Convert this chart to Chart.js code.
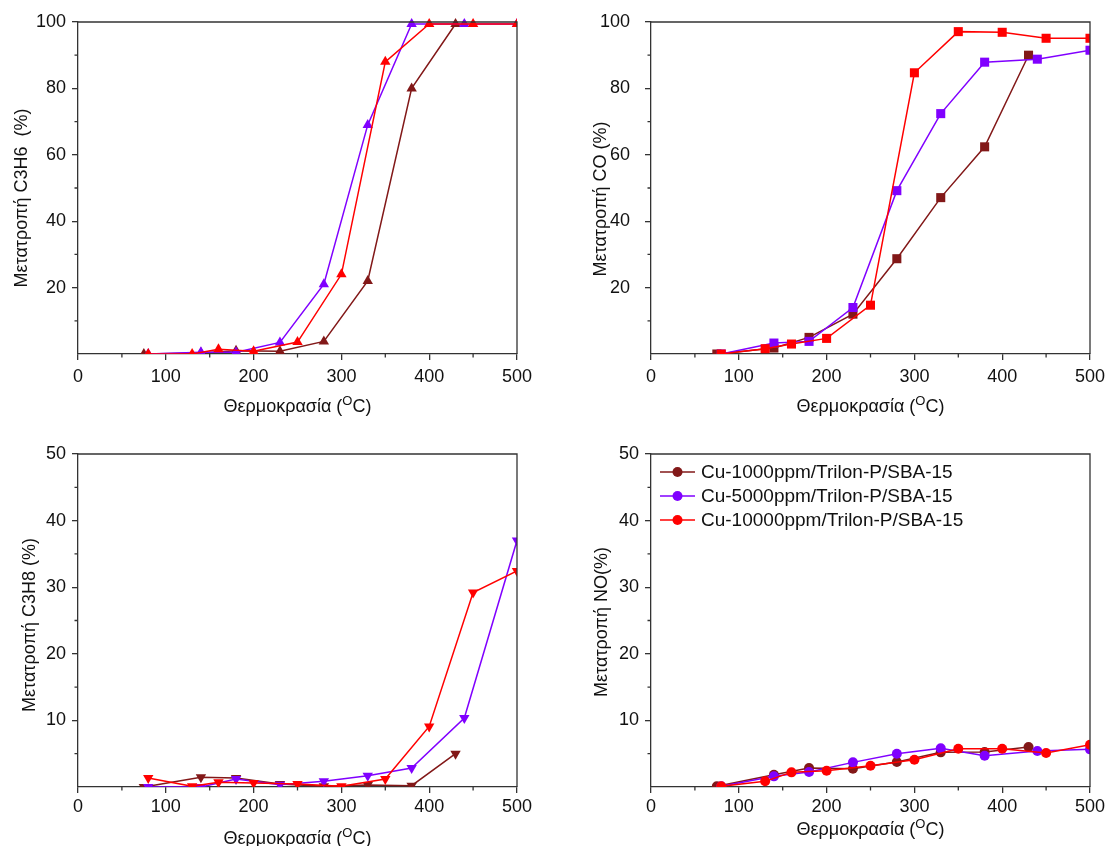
<!DOCTYPE html>
<html>
<head>
<meta charset="utf-8">
<script src="https://cdn.jsdelivr.net/npm/chart.js@4.4.1/dist/chart.umd.min.js"></script>
<style>
  html, body { margin: 0; padding: 0; background: #fff; }
  #page { position: relative; width: 1107px; height: 846px; overflow: hidden; background: #fff; }
  canvas { position: absolute; }
</style>
</head>
<body>
<div id="page">
  <canvas id="c3h6" width="553" height="423" style="left:0;top:0"></canvas>
  <canvas id="co" width="554" height="423" style="left:553px;top:0"></canvas>
  <canvas id="c3h8" width="553" height="423" style="left:0;top:423px"></canvas>
  <canvas id="no" width="554" height="423" style="left:553px;top:423px"></canvas>
</div>
<script>
// Catalysts
const seriesNames = ['Cu-1000ppm/Trilon-P/SBA-15', 'Cu-5000ppm/Trilon-P/SBA-15', 'Cu-10000ppm/Trilon-P/SBA-15'];
const seriesColors = ['#821818', '#8000FF', '#FF0000'];

// Temperatures (°C) measured for each catalyst
const temps1000 = [75, 140, 180, 230, 280, 330, 380, 430];
const temps5000 = [80, 140, 180, 230, 280, 330, 380, 440, 500];
const temps10000 = [80, 130, 160, 200, 250, 300, 350, 400, 450, 500];

// C3H6 conversion (%)
const c3h6_1000 = [0, 0.3, 1.0, 0.8, 3.8, 22, 80, 99.4];
const c3h6_5000 = [0, 0.5, 0.5, 3.5, 21, 69, 99.4, 99.4, 99.4];
const c3h6_10000 = [0, 0, 1.4, 0.8, 3.6, 24, 88, 99.4, 99.4, 99.4];

// CO conversion (%)
const co_1000 = [0, 1.8, 5.0, 12.0, 28.7, 47.1, 62.4, 90.0];
const co_5000 = [0, 3.3, 3.8, 14.0, 49.2, 72.4, 87.9, 88.8, 91.5];
const co_10000 = [0, 1.6, 3.0, 4.7, 14.7, 84.7, 97.1, 96.9, 95.1, 95.1];

// C3H8 conversion (%)
const c3h8_1000 = [0, 1.45, 1.35, 0.45, 0.1, 0.3, 0.2, 5.0];
const c3h8_5000 = [0, 0, 1.2, 0.35, 0.85, 1.7, 2.85, 10.35, 37.0];
const c3h8_10000 = [1.35, 0.1, 0.7, 0.6, 0.45, 0.1, 1.2, 9.1, 29.2, 32.45];

// NO conversion (%)
const no_1000 = [0.1, 1.85, 2.85, 2.75, 3.75, 5.2, 5.25, 6.0];
const no_5000 = [0.1, 1.6, 2.25, 3.7, 5.0, 5.8, 4.7, 5.4, 5.65];
const no_10000 = [0.1, 0.85, 2.2, 2.45, 3.2, 4.1, 5.75, 5.75, 5.1, 6.35];

// Tick labels
const xTickValues = [0, 100, 200, 300, 400, 500];
const yTicksUpper = [20, 40, 60, 80, 100];
const yTicksLower = [10, 20, 30, 40, 50];

// Axis titles
const xTitleParts = ['Θερμοκρασία (', 'O', 'C)'];
const yTitleC3H6 = 'Μετατροπή C3H6  (%)';
const yTitleCO = 'Μετατροπή CO (%)';
const yTitleC3H8 = 'Μετατροπή C3H8 (%)';
const yTitleNO = 'Μετατροπή NO(%)';

const FONT = '"Liberation Sans", Arial, sans-serif';
const AXIS = '#333333';
const TEXT = '#111111';

// Frame, minor ticks, axis titles and legend
const panelDecor = {
  id: 'panelDecor',
  afterDraw(chart, args, o) {
    const { ctx, chartArea: a, scales: { x, y } } = chart;
    ctx.save();
    ctx.strokeStyle = AXIS;
    ctx.lineWidth = 1.3;
    ctx.beginPath();
    ctx.moveTo(a.left, a.top);
    ctx.lineTo(a.right, a.top);
    ctx.lineTo(a.right, a.bottom);
    ctx.stroke();

    // minor ticks halfway between the major ones
    const xStep = x.ticks[1].value - x.ticks[0].value;
    ctx.beginPath();
    for (let v = x.min + xStep / 2; v < x.max; v += xStep) {
      const px = x.getPixelForValue(v);
      ctx.moveTo(px, a.bottom);
      ctx.lineTo(px, a.bottom + 3.5);
    }
    const yStep = y.ticks[1].value - y.ticks[0].value;
    for (let v = y.min + yStep / 2; v < y.max; v += yStep) {
      const py = y.getPixelForValue(v);
      ctx.moveTo(a.left, py);
      ctx.lineTo(a.left - 3.5, py);
    }
    ctx.stroke();

    // y title
    ctx.fillStyle = TEXT;
    ctx.font = '18px ' + FONT;
    ctx.textAlign = 'center';
    ctx.textBaseline = 'middle';
    ctx.save();
    ctx.translate(o.yTitleX, o.yTitleY);
    ctx.rotate(-Math.PI / 2);
    ctx.fillText(o.yTitle, 0, 0);
    ctx.restore();

    // x title with superscript
    const big = '18px ' + FONT, small = '13px ' + FONT;
    ctx.textAlign = 'left';
    ctx.font = big;
    const w0 = ctx.measureText(xTitleParts[0]).width;
    const w2 = ctx.measureText(xTitleParts[2]).width;
    ctx.font = small;
    const w1 = ctx.measureText(xTitleParts[1]).width;
    let tx = (a.left + a.right) / 2 - (w0 + w1 + w2) / 2;
    const ty = o.xTitleY;
    ctx.font = big;
    ctx.fillText(xTitleParts[0], tx, ty);
    tx += w0;
    ctx.font = small;
    ctx.fillText(xTitleParts[1], tx, ty - 6);
    tx += w1;
    ctx.font = big;
    ctx.fillText(xTitleParts[2], tx, ty);

    // legend
    if (o.legend) {
      const { lx, ly, gap } = o.legend;
      chart.data.datasets.forEach((ds, i) => {
        const ry = ly + i * gap;
        ctx.strokeStyle = ds.borderColor;
        ctx.lineWidth = 1.5;
        ctx.beginPath();
        ctx.moveTo(lx, ry);
        ctx.lineTo(lx + 35, ry);
        ctx.stroke();
        ctx.fillStyle = ds.borderColor;
        ctx.beginPath();
        ctx.arc(lx + 17.5, ry, 5, 0, Math.PI * 2);
        ctx.fill();
        ctx.fillStyle = TEXT;
        ctx.font = '19px ' + FONT;
        ctx.textBaseline = 'middle';
        ctx.fillText(ds.label, lx + 41, ry + 1);
      });
    }
    ctx.restore();
  }
};

function series(temps, vals, i, marker, clip) {
  return {
    label: seriesNames[i],
    data: temps.map((t, k) => ({ x: t, y: vals[k] })),
    borderColor: seriesColors[i],
    backgroundColor: seriesColors[i],
    pointBackgroundColor: seriesColors[i],
    pointBorderColor: seriesColors[i],
    pointBorderWidth: 0,
    borderWidth: 1.5,
    pointStyle: marker.style,
    pointRotation: marker.rotation || 0,
    pointRadius: marker.radius,
    pointHoverRadius: marker.radius,
    tension: 0,
    clip: clip,
    order: 3 - i
  };
}

function axisCommon() {
  return {
    type: 'linear',
    grid: { drawOnChartArea: false, drawTicks: true, tickLength: 6, color: AXIS, lineWidth: 1.3 },
    border: { display: true, color: AXIS, width: 1.3 },
  };
}

// keep the plot frame fixed: no extra room reserved for overhanging labels
function noOverhang(s) {
  s.paddingLeft = 0; s.paddingRight = 0; s.paddingTop = 0; s.paddingBottom = 0;
}

function makePanel(id, cfg) {
  const ticksFrom = vals => scale => { scale.ticks = vals.map(v => ({ value: v })); };
  const clip = { left: 0, top: 4, right: 0, bottom: 0 };
  new Chart(document.getElementById(id), {
    type: 'line',
    data: {
      datasets: [
        series(temps1000, cfg.data[0], 0, cfg.marker, clip),
        series(temps5000, cfg.data[1], 1, cfg.marker, clip),
        series(temps10000, cfg.data[2], 2, cfg.marker, clip)
      ]
    },
    plugins: [panelDecor],
    options: {
      responsive: false,
      animation: false,
      devicePixelRatio: 1,
      layout: { autoPadding: false, padding: { left: 0, top: cfg.top, right: cfg.right, bottom: 0 } },
      scales: {
        x: Object.assign(axisCommon(), {
          min: 0, max: 500,
          afterBuildTicks: ticksFrom(xTickValues),
          afterFit: s => { s.height = cfg.xAxisH; noOverhang(s); },
          ticks: { autoSkip: false, maxRotation: 0, color: TEXT, padding: cfg.xPad, font: { family: FONT, size: 18 } }
        }),
        y: Object.assign(axisCommon(), {
          min: 0, max: cfg.yMax,
          afterBuildTicks: ticksFrom(cfg.yTicks),
          afterFit: s => { s.width = cfg.yAxisW; noOverhang(s); },
          ticks: { autoSkip: false, color: TEXT, padding: cfg.yPad, font: { family: FONT, size: 18 } }
        })
      },
      plugins: {
        legend: { display: false },
        tooltip: { enabled: false },
        panelDecor: cfg.decor
      }
    }
  });
}

makePanel('c3h6', {
  data: [c3h6_1000, c3h6_5000, c3h6_10000],
  marker: { style: 'triangle', radius: 6 },
  top: 22, right: 36, xAxisH: 69, yAxisW: 78, yMax: 100, yTicks: yTicksUpper, xPad: 6, yPad: 6,
  decor: { yTitle: yTitleC3H6, yTitleX: 22, yTitleY: 198, xTitleY: 407 }
});

makePanel('co', {
  data: [co_1000, co_5000, co_10000],
  marker: { style: 'rect', radius: 6.4 },
  top: 22, right: 17, xAxisH: 69, yAxisW: 98, yMax: 100, yTicks: yTicksUpper, xPad: 6, yPad: 15,
  decor: { yTitle: yTitleCO, yTitleX: 48, yTitleY: 199, xTitleY: 407 }
});

makePanel('c3h8', {
  data: [c3h8_1000, c3h8_5000, c3h8_10000],
  marker: { style: 'triangle', rotation: 180, radius: 6 },
  top: 31, right: 36, xAxisH: 59, yAxisW: 78, yMax: 50, yTicks: yTicksLower, xPad: 3, yPad: 6,
  decor: { yTitle: yTitleC3H8, yTitleX: 30, yTitleY: 202, xTitleY: 416 }
});

makePanel('no', {
  data: [no_1000, no_5000, no_10000],
  marker: { style: 'circle', radius: 5 },
  top: 31, right: 17, xAxisH: 59, yAxisW: 98, yMax: 50, yTicks: yTicksLower, xPad: 3, yPad: 6,
  decor: { yTitle: yTitleNO, yTitleX: 49, yTitleY: 199, xTitleY: 407,
           legend: { lx: 107, ly: 49, gap: 24 } }
});
</script>
</body>
</html>
